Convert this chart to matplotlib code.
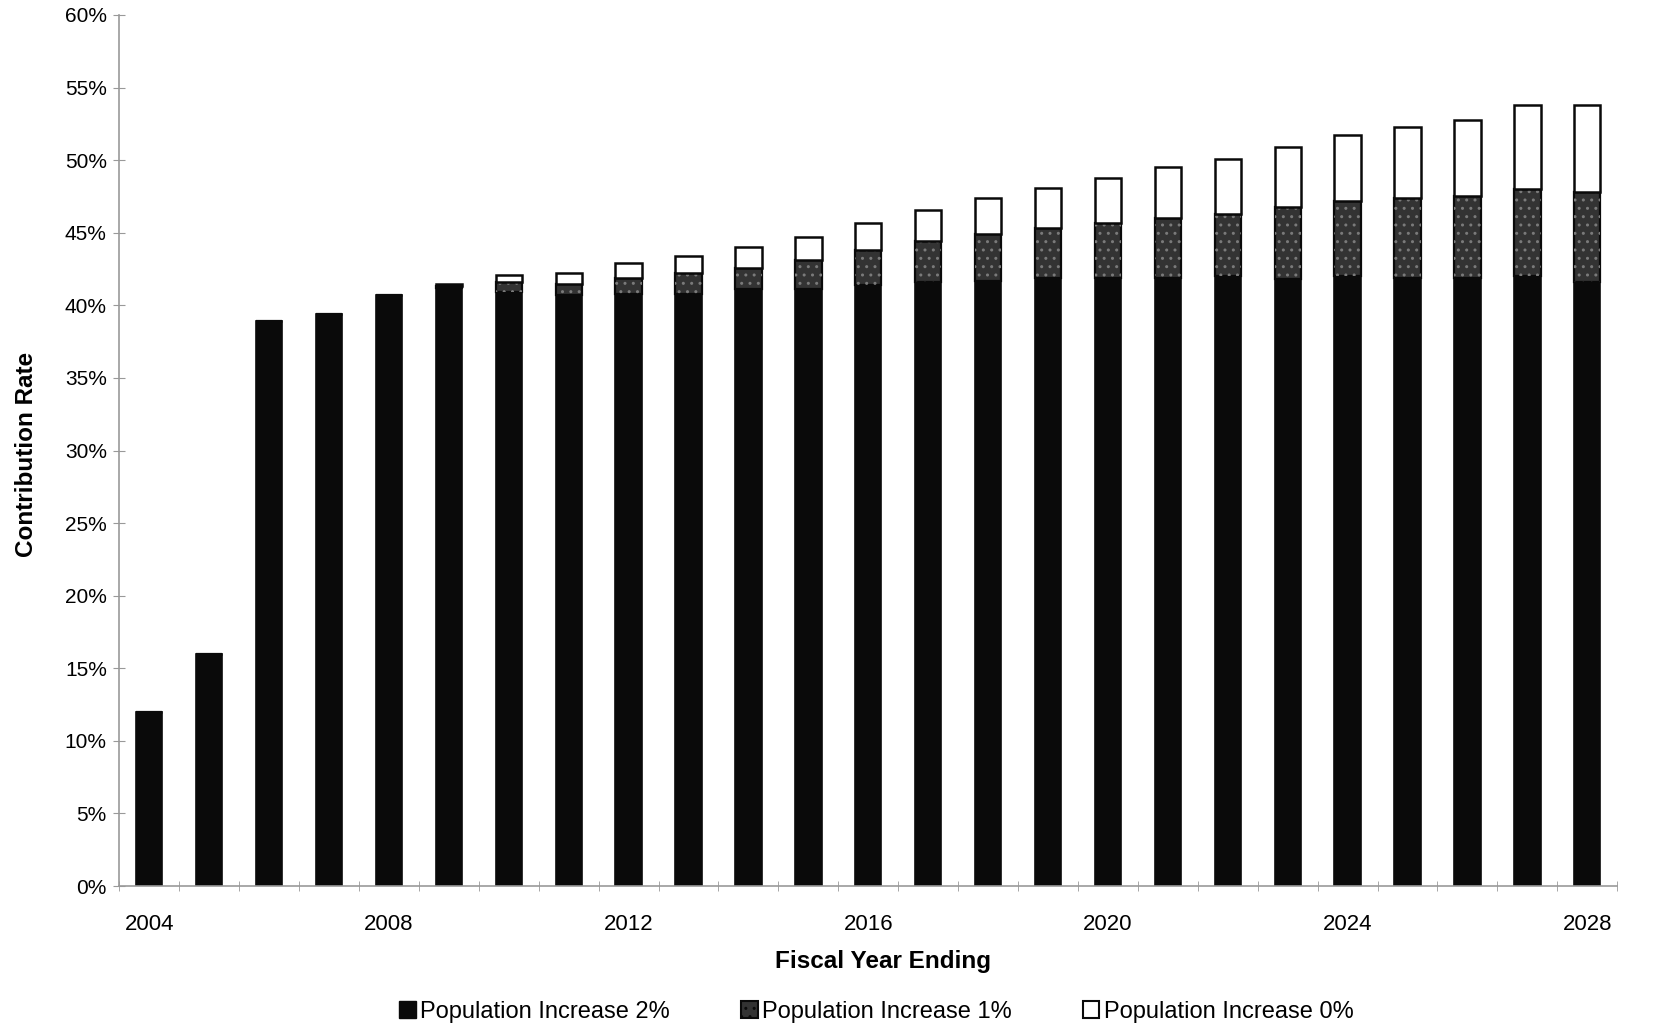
"""Projected contribution rates under three population growth scenarios."""

import matplotlib.pyplot as plt
import numpy as np
from matplotlib.patches import Patch

plt.rcParams["font.family"] = ["Liberation Sans", "DejaVu Sans"]

years = list(range(2004, 2029))

# contribution rate (%) by fiscal year for each population growth assumption
rate_pop2 = [12.0, 16.0, 38.9, 39.4, 40.7, 41.2, 40.9, 40.7, 40.8, 40.8, 41.1, 41.1, 41.4,
             41.6, 41.7, 41.9, 41.9, 41.9, 42.0, 41.8, 42.0, 41.9, 41.9, 42.0, 41.6]
rate_pop1 = [12.0, 16.0, 38.9, 39.4, 40.7, 41.3, 41.6, 41.5, 41.9, 42.2, 42.6, 43.1, 43.8,
             44.4, 44.9, 45.3, 45.7, 46.0, 46.3, 46.8, 47.2, 47.4, 47.5, 48.0, 47.8]
rate_pop0 = [12.0, 16.0, 38.9, 39.4, 40.7, 41.5, 42.1, 42.2, 42.9, 43.4, 44.0, 44.7, 45.7,
             46.6, 47.4, 48.1, 48.8, 49.5, 50.1, 50.9, 51.7, 52.3, 52.8, 53.8, 53.8]

labels = ["Population Increase 2%", "Population Increase 1%", "Population Increase 0%"]

x = np.arange(len(years))
r2 = np.array(rate_pop2)
r1 = np.array(rate_pop1)
r0 = np.array(rate_pop0)
width = 0.44

fig = plt.figure(figsize=(16.57, 10.26), dpi=100)
ax = fig.add_axes([0.072, 1 - 886 / 1026, 0.904, (886 - 15) / 1026])

ax.bar(x, r2, width, color="#0a0a0a", edgecolor="#0a0a0a", linewidth=1.2)
ax.bar(x, r1 - r2, width, bottom=r2, color="#333333", edgecolor="#0a0a0a", linewidth=1.6)
# speckled texture on the middle segment
ax.bar(x, r1 - r2, width, bottom=r2, color="none", edgecolor="#7a7a7a",
       hatch="..", linewidth=0)
ax.bar(x, r0 - r1, width, bottom=r1, color="white", edgecolor="#0a0a0a", linewidth=1.8)

ax.set_xlim(-0.5, len(years) - 0.5)
ax.set_ylim(0, 60)

ax.set_yticks(np.arange(0, 61, 5))
ax.set_yticklabels([f"{v}%" for v in range(0, 61, 5)])
ax.tick_params(axis="y", direction="inout", length=8, color="#999999", pad=5,
               labelsize=15)

ax.set_xticks(x[::4])
ax.set_xticklabels([str(y) for y in years[::4]])
ax.set_xticks(np.arange(-0.5, len(years), 1), minor=True)
ax.tick_params(axis="x", which="major", length=0, pad=20, labelsize=16)
ax.tick_params(axis="x", which="minor", direction="inout", length=7, color="#999999")

for side in ("top", "right"):
    ax.spines[side].set_visible(False)
for side in ("left", "bottom"):
    ax.spines[side].set_color("#999999")
    ax.spines[side].set_linewidth(1.2)

fig.text(27 / 1657, 0.557, "Contribution Rate", rotation=90, ha="center", va="center",
         fontsize=17.5, fontweight="bold")
fig.text(0.533, 0.063, "Fiscal Year Ending", ha="center", va="center",
         fontsize=17.5, fontweight="bold")

handles = [
    Patch(facecolor="#0a0a0a", edgecolor="#0a0a0a"),
    Patch(facecolor="#333333", edgecolor="#0a0a0a", hatch="..", linewidth=1.5),
    Patch(facecolor="white", edgecolor="#0a0a0a", linewidth=1.5),
]
fig.legend(handles, labels, loc="center", bbox_to_anchor=(0.529, 0.014), ncol=3,
           frameon=False, fontsize=17, handlelength=0.7, handleheight=0.7,
           handletextpad=0.2, columnspacing=3.0)

fig.savefig("out.png", dpi=100)
plt.close(fig)
